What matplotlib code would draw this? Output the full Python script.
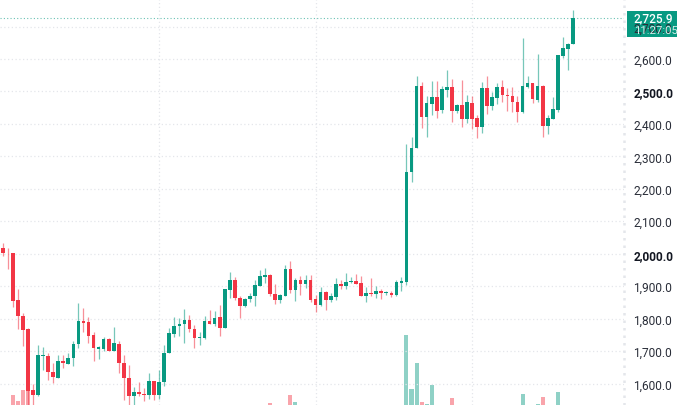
import matplotlib
matplotlib.use('Agg')
import matplotlib.pyplot as plt
from matplotlib.patches import Rectangle
import numpy as np

# candles
opens = [2019,2003,2003,1856,1808,1767,1580,1565,1685,1686,1635,1617,1670,1661,1678,1721,1794,1789,1748,1706,
         1707,1738,1701,1723,1663,1618,1562,1573,1569,1566,1609,1566,1604,1695,1752,1776,1782,1796,1769,1740,
         1739,1793,1783,1804,1771,1889,1918,1864,1838,1859,1871,1902,1928,1934,1876,1857,1871,1953,1888,1920,
         1906,1918,1859,1842,1883,1857,1867,1907,1902,1912,1916,1910,1870,1880,1877,1885,1879,1880,1872,1911,
         1912,2251,2326,2516,2422,2462,2482,2444,2506,2513,2441,2458,2415,2465,2417,2390,2510,2456,2481,2515,
         2490,2486,2468,2436,2515,2526,2474,2517,2395,2415,2444,2608,2631,2645]
highs = [2032,2019,2003,1890,1816,1771,1599,1719,1713,1695,1664,1689,1689,1694,1730,1847,1834,1806,1760,1715,
         1744,1739,1775,1731,1687,1656,1590,1606,1585,1631,1609,1642,1720,1771,1804,1803,1830,1810,1781,1758,
         1809,1828,1822,1843,1892,1945,1928,1871,1865,1878,1918,1951,1955,1939,1907,1876,1965,1979,1926,1930,
         1934,1934,1873,1896,1886,1879,1924,1920,1940,1928,1937,1930,1897,1924,1899,1891,1886,1886,1918,1927,
         2338,2359,2547,2528,2485,2533,2533,2516,2567,2538,2461,2535,2489,2485,2428,2528,2547,2497,2526,2536,
         2510,2513,2485,2665,2547,2526,2615,2520,2428,2482,2612,2669,2648,2750]
lows = [1993,1954,1836,1769,1715,1530,1530,1563,1643,1612,1602,1617,1649,1659,1654,1708,1758,1726,1669,1676,
        1701,1699,1700,1631,1549,1530,1530,1561,1546,1551,1548,1551,1592,1693,1742,1746,1726,1758,1709,1720,
        1738,1782,1777,1746,1770,1864,1856,1802,1837,1852,1840,1900,1910,1869,1845,1848,1871,1879,1855,1873,
        1893,1850,1821,1840,1827,1850,1858,1891,1891,1910,1907,1869,1852,1871,1863,1861,1873,1868,1871,1886,
        1905,2222,2325,2387,2359,2428,2417,2434,2482,2407,2433,2390,2402,2385,2357,2371,2431,2444,2461,2469,
        2441,2438,2407,2434,2510,2465,2467,2359,2369,2415,2438,2602,2566,2645]
closes = [2001,2001,1854,1808,1766,1578,1566,1687,1688,1634,1619,1669,1662,1679,1723,1793,1788,1747,1708,1711,
          1738,1700,1726,1662,1616,1562,1573,1567,1566,1608,1566,1604,1695,1756,1777,1784,1795,1768,1739,1743,
          1793,1784,1803,1771,1891,1918,1862,1840,1861,1870,1904,1930,1934,1875,1857,1874,1953,1888,1920,1906,
          1918,1857,1842,1881,1857,1869,1907,1902,1914,1916,1907,1870,1880,1877,1885,1879,1882,1873,1912,1916,
          2253,2326,2518,2422,2464,2482,2441,2507,2513,2441,2458,2415,2467,2415,2390,2510,2456,2482,2515,2489,
          2486,2467,2436,2517,2526,2477,2517,2395,2418,2446,2612,2633,2646,2726]

# only the volume bars that reach into the visible part
vol_idx = [2, 3, 4, 5, 53, 57, 58, 80, 81, 82, 83, 84, 85, 89, 103, 106, 107, 110]
vol_vals = [30, 24, 35, 36, 22, 30, 23, 90, 36, 62, 23, 21, 40, 27, 31, 21, 28, 33]

price_ticks = [1600, 1700, 1800, 1900, 2000, 2100, 2200, 2300, 2400, 2500, 2600, 2700]
bold_ticks = [2000, 2500]
grid_idx = [31, 62, 93]
last_price = 2725.9
countdown = '11:27:05'

GREEN = '#089981'
RED = '#F23645'
GRID = '#e4e6eb'
W, H = 679, 406
plt.rcParams['font.family'] = 'Roboto'

fig = plt.figure(figsize=(W/100, H/100), dpi=100)
ax = fig.add_axes([0, 0, 624/W, 1])
ax2 = ax.twinx()
ax.set_zorder(ax2.get_zorder() + 1)
ax.patch.set_visible(False)

# price scale: px y = 60 + (2600 - p) * 0.3245, candle i at px 2.7 + 5.047 * i
ax.set_ylim(1533.8, 2784.9)
ax.set_xlim(-2.7/5.047, (624 - 2.7)/5.047)
ax2.set_ylim(20, 426)

x = np.arange(len(opens))
o, h, l, c = map(np.array, (opens, highs, lows, closes))
colors = np.where(c >= o, GREEN, RED)

ax.vlines(x, l, h, colors=list(colors), lw=0.9, alpha=0.55, zorder=3)
ax.bar(x, np.maximum(np.abs(c - o), 2), bottom=np.minimum(o, c), width=0.72,
       color=list(colors), linewidth=0, zorder=4)
ax2.bar(vol_idx, vol_vals, width=0.8, linewidth=0, alpha=0.45,
        color=[colors[i] for i in vol_idx])

# grid
ax.set_axisbelow(True)
ax2.set_yticks([])
ax.set_xticks(grid_idx)
ax.set_yticks(price_ticks)
ax.grid(True, color=GRID, lw=0.9, linestyle=(0, (1, 2)))
ax.yaxis.tick_right()
ax.tick_params(axis='y', length=0, pad=6.7, labelsize=8.6, labelcolor='#2a2e39')
ax.tick_params(axis='x', length=0, labelbottom=False)
ax.set_yticklabels([f'{p:,.1f}' for p in price_ticks])
for lab, p in zip(ax.get_yticklabels(), price_ticks):
    if p in bold_ticks:
        lab.set_fontweight('bold')
        lab.set_color('#131722')
for a in (ax, ax2):
    for s in ('top', 'bottom', 'left', 'right'):
        a.spines[s].set_visible(False)
ax.axvline(ax.get_xlim()[1], color=GRID, lw=1.8, linestyle=(0, (1, 2)), clip_on=False)

# last price line and label
ax.axhline(last_price, color=GREEN, lw=0.8, alpha=0.6, linestyle=(0, (1, 2)), zorder=2)
fig.add_artist(Rectangle((626.7/W, 1 - 38.3/H), 50.3/W, 26.3/H, transform=fig.transFigure,
                         facecolor=GREEN, edgecolor='none'))
fig.text(633.5/W, 1 - 19/H, f'{last_price:,.1f}', color='white', fontsize=8.6,
         va='center', ha='left', fontweight='medium')
fig.text(634/W, 1 - 31/H, countdown, color='#d5eee9', fontsize=8.2, va='center', ha='left')

fig.savefig('out.png', dpi=100)
